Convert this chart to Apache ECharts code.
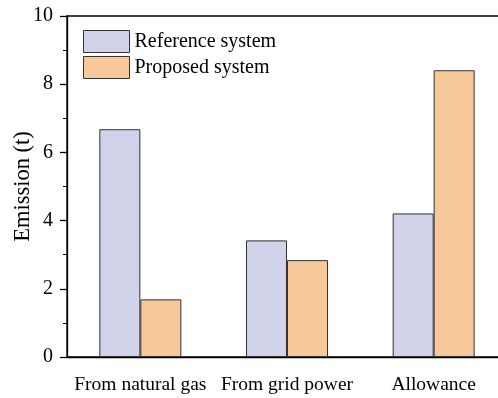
<!DOCTYPE html>
<html>
<head>
<meta charset="utf-8">
<script src="https://cdn.jsdelivr.net/npm/echarts@6/dist/echarts.min.js"></script>
<style>
  html, body { margin: 0; padding: 0; background: #fff; }
  #chart { width: 498px; height: 398px; }
</style>
</head>
<body>
<div id="chart"></div>
<script>
// Emission sources on the category axis
const categories = ['From natural gas', 'From grid power', 'Allowance'];
// Emissions in tonnes for each system
const referenceSystem = [6.68, 3.42, 4.21];
const proposedSystem = [1.69, 2.84, 8.41];
// Y-axis ticks
const yTicks = [0, 2, 4, 6, 8, 10];

const FONT = '"Liberation Serif", "Times New Roman", serif';

const chart = echarts.init(document.getElementById('chart'), null, { renderer: 'canvas' });

chart.setOption({
  animation: false,
  backgroundColor: '#ffffff',
  textStyle: { fontFamily: FONT },
  grid: {
    left: 67, top: 16, width: 440, bottom: 41,
    outerBoundsMode: 'none',
    containLabel: false,
    show: true, borderColor: '#000', borderWidth: 1.3, backgroundColor: 'transparent'
  },
  legend: {
    orient: 'vertical',
    left: 83, top: 30,
    padding: 0,
    itemWidth: 46, itemHeight: 22, itemGap: 3,
    icon: 'rect',
    textStyle: { fontFamily: FONT, fontSize: 20, lineHeight: 22, color: '#000' },
    itemStyle: { borderColor: '#333', borderWidth: 1 },
    data: ['Reference system', 'Proposed system']
  },
  xAxis: {
    type: 'category',
    data: categories,
    axisLine: { lineStyle: { color: '#000', width: 1.3 } },
    axisTick: { alignWithLabel: true, length: 7, lineStyle: { color: '#000', width: 1.3 } },
    axisLabel: { interval: 0, fontFamily: FONT, fontSize: 19.5, color: '#000', margin: 18 },
    splitLine: { show: false }
  },
  yAxis: {
    type: 'value',
    min: yTicks[0], max: yTicks[yTicks.length - 1], interval: 2,
    name: 'Emission (t)',
    nameLocation: 'middle',
    nameMoveOverlap: false,
    nameGap: 32,
    nameTextStyle: { fontFamily: FONT, fontSize: 22.5, color: '#000' },
    axisLine: { show: true, lineStyle: { color: '#000', width: 1.3 } },
    axisTick: { show: true, length: 7, lineStyle: { color: '#000', width: 1.3 } },
    minorTick: { show: true, splitNumber: 2, length: 4, lineStyle: { color: '#000', width: 1 } },
    axisLabel: { fontFamily: FONT, fontSize: 20, color: '#000', margin: 14 },
    splitLine: { show: false }
  },
  series: [
    {
      name: 'Reference system',
      type: 'bar',
      data: referenceSystem,
      barWidth: 41,
      barGap: '0%',
      itemStyle: { color: '#D1D3EB', borderColor: '#333', borderWidth: 1 }
    },
    {
      name: 'Proposed system',
      type: 'bar',
      data: proposedSystem,
      barWidth: 41,
      barGap: '0%',
      itemStyle: { color: '#F6C89A', borderColor: '#333', borderWidth: 1 }
    }
  ]
});
</script>
</body>
</html>
